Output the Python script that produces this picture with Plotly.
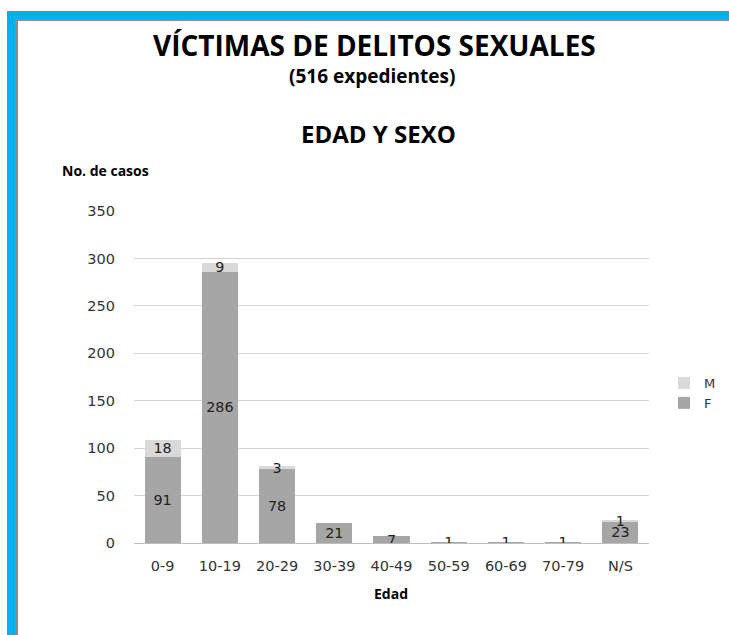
import plotly.graph_objects as go

categories = ["0-9", "10-19", "20-29", "30-39", "40-49", "50-59", "60-69", "70-79", "N/S"]
f_values = [91, 286, 78, 21, 7, 1, 1, 1, 23]
m_values = [18, 9, 3, 0, 0, 0, 0, 0, 1]
y_ticks = [0, 50, 100, 150, 200, 250, 300, 350]

W, H = 729, 635
L, R, T, B = 134, 80, 211, 92
PW, PH = W - L - R, H - T - B


def px(x):
    return (x - L) / PW


def py(y):
    return (H - B - y) / PH


def lbl(vals):
    return [str(v) if v else "" for v in vals]


TICK_FONT = dict(family="DejaVu Sans", size=14.5, color="#333333")

fig = go.Figure()
fig.add_trace(go.Bar(
    name="F", x=categories, y=f_values, marker=dict(color="#A6A6A6", line=dict(width=0)),
    text=lbl(f_values), textposition="inside", insidetextanchor="middle", textangle=0,
    textfont=dict(family="DejaVu Sans", size=14.5, color="#222222"),
))
fig.add_trace(go.Bar(
    name="M", x=categories, y=m_values, marker=dict(color="#D9D9D9", line=dict(width=0)),
    text=lbl(m_values), textposition="inside", insidetextanchor="middle", textangle=0,
    textfont=dict(family="DejaVu Sans", size=14.5, color="#222222"),
))

shapes = [
    dict(type="rect", xref="paper", yref="paper", x0=px(7), x1=px(729), y0=py(11), y1=py(19),
         fillcolor="#00B0F0", line=dict(width=0), layer="above"),
    dict(type="rect", xref="paper", yref="paper", x0=px(7), x1=px(15), y0=py(11), y1=py(635),
         fillcolor="#00B0F0", line=dict(width=0), layer="above"),
    dict(type="rect", xref="paper", yref="paper", x0=px(15), x1=px(729), y0=py(19), y1=py(21),
         fillcolor="#8C8C8C", line=dict(width=0), layer="above"),
    dict(type="rect", xref="paper", yref="paper", x0=px(15), x1=px(18), y0=py(19), y1=py(635),
         fillcolor="#8C8C8C", line=dict(width=0), layer="above"),
]

TF = "Open Sans"
annotations = [
    dict(text="<b>VÍCTIMAS DE DELITOS SEXUALES</b>", x=px(374), y=py(45), xref="paper", yref="paper",
         showarrow=False, font=dict(family=TF, size=28, color="#000000"), xanchor="center", yanchor="middle"),
    dict(text="<b>(516 expedientes)</b>", x=px(372), y=py(76), xref="paper", yref="paper",
         showarrow=False, font=dict(family=TF, size=19, color="#000000"), xanchor="center", yanchor="middle"),
    dict(text="<b>EDAD Y SEXO</b>", x=px(378), y=py(133), xref="paper", yref="paper",
         showarrow=False, font=dict(family=TF, size=24, color="#000000"), xanchor="center", yanchor="middle"),
    dict(text="<b>No. de casos</b>", x=px(60), y=py(170), xref="paper", yref="paper",
         showarrow=False, font=dict(family=TF, size=14, color="#000000"), xanchor="left", yanchor="middle"),
    dict(text="<b>Edad</b>", x=px(391), y=py(593), xref="paper", yref="paper",
         showarrow=False, font=dict(family=TF, size=14, color="#000000"), xanchor="center", yanchor="middle"),
]

fig.update_layout(
    width=W, height=H,
    margin=dict(l=L, r=R, t=T, b=B, autoexpand=False),
    barmode="stack", bargap=0.37,
    paper_bgcolor="white", plot_bgcolor="white",
    showlegend=True,
    legend=dict(x=px(664), y=py(368), xanchor="left", yanchor="top", traceorder="reversed",
                font=dict(family="DejaVu Sans", size=13, color="#333333"),
                itemwidth=30, tracegroupgap=0, bgcolor="rgba(0,0,0,0)"),
    uniformtext=dict(minsize=14, mode="show"),
    shapes=shapes, annotations=annotations,
    xaxis=dict(showgrid=False, showline=True, linecolor="#BFBFBF", linewidth=1,
               tickfont=TICK_FONT, ticks="", ticklabelstandoff=10, fixedrange=True),
    yaxis=dict(range=[0, 350], tickvals=y_ticks, showgrid=True, gridcolor="#D4D4D4", gridwidth=1,
               zeroline=False, showline=False,
               tickfont=TICK_FONT, ticks="", ticklabelstandoff=18, fixedrange=True),
    font=dict(family="DejaVu Sans"),
)

fig.write_html("out.html", config={"displayModeBar": False},
               post_script="document.body.style.margin='0px';")
